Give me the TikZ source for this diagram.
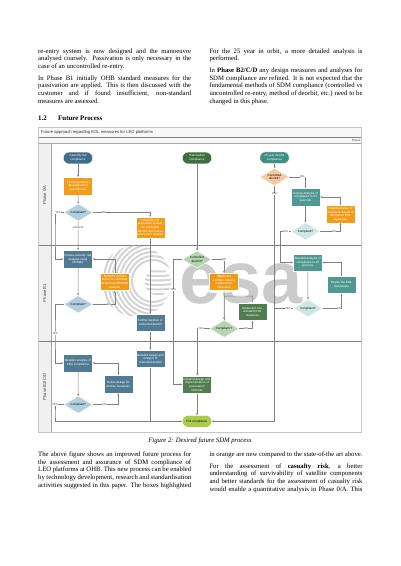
\documentclass[tikz,border=0pt]{standalone}
\usepackage{fontspec}
\setmainfont{Liberation Serif}
\setsansfont{Liberation Sans}
\usetikzlibrary{shapes.geometric,arrows.meta,calc}
\definecolor{cblue}{HTML}{3F6D8A}
\definecolor{clblue}{HTML}{B3CEDF}
\definecolor{corange}{HTML}{F29200}
\definecolor{cgreen}{HTML}{3D6E3C}
\definecolor{clgreen}{HTML}{B4D5B0}
\definecolor{cteal}{HTML}{3F8F85}
\definecolor{clteal}{HTML}{CDE8E3}
\definecolor{cpeach}{HTML}{F6C9A2}
\definecolor{clime}{HTML}{ABCB4B}
\definecolor{cwm}{HTML}{CBCBCB}
\definecolor{cwl}{HTML}{D4D4D4}
\definecolor{cline}{HTML}{808080}
\newcommand\jl[1]{\makebox[153pt][s]{#1}\\}
\tikzset{
 x=1pt,y=-1pt,
 bodytext/.style={anchor=north west,inner sep=0pt,align=left,font=\fontsize{6.7}{7.75}\selectfont},
 boxbase/.style={inner sep=0pt,align=center,font=\sffamily\fontsize{3}{3.7}\selectfont,text=white,draw=white,line width=.4pt},
 taskbox/.style={boxbase,rectangle,minimum width=29pt,minimum height=17.6pt,fill opacity=.9,text opacity=1},
 pill/.style={boxbase,rectangle,rounded corners=5.8pt,minimum width=29.4pt,minimum height=11.8pt},
 dec/.style={boxbase,diamond,aspect=1.7,minimum width=29pt,minimum height=17.4pt,text=black},
 conn/.style={draw=cline,line width=.5pt,-{Stealth[length=2.2pt,width=2pt]}},
 lbl/.style={inner sep=.3pt,fill=white,font=\sffamily\fontsize{2.7}{3}\selectfont,text=black!75},
 lane/.style={rotate=90,inner sep=0pt,font=\sffamily\fontsize{4.2}{5}\selectfont,text=black!75},
 sep/.style={draw=black!50,line width=.5pt},
}
\begin{document}
\begin{tikzpicture}
\useasboundingbox (0,0) rectangle (400,566);
\fill[white] (0,0) rectangle (400,566);

% body text, top
\node[bodytext] (t1) at (38,48.2) {\jl{re-entry system is now designed and the manoeuvre}\jl{analysed coarsely. Passivation is only necessary in the}case of an uncontrolled re-entry.};
\node[bodytext] (t2) at (38,75.2) {\jl{In Phase B1 initially OHB standard measures for the}\jl{passivation are applied. This is then discussed with the}\jl{customer and if found insufficient, non-standard}measures are assessed.};
\node[bodytext] (t3) at (209.3,48.2) {\jl{For the 25 year in orbit, a more detailed analysis is}performed.};
\node[bodytext] (t4) at (209.3,67.5) {\jl{In \textbf{Phase B2/C/D} any design measures and analyses for}\jl{SDM compliance are refined. It is not expected that the}\jl{fundamental methods of SDM compliance (controlled vs}\jl{uncontrolled re-entry, method of deorbit, etc.) need to be}changed in this phase.};
\node[anchor=west,inner sep=0pt,font=\bfseries\fontsize{6.9}{8}\selectfont] (h1) at (38,118) {1.2};
\node[anchor=west,inner sep=0pt,font=\bfseries\fontsize{6.9}{8}\selectfont] (h2) at (58,118) {Future Process};

% swimlane frame
\fill[black!3] (38.5,127) rectangle (361.5,143.3);
\fill[black!6] (38.5,143.3) rectangle (50.7,432);
\draw[draw=black!22,line width=1pt] (38.5,127) rectangle (361.5,432);
\draw[sep] (38.5,137.7) -- (361,137.7);
\draw[draw=black!35,line width=.4pt] (38.5,143.3) -- (361,143.3);
\draw[draw=black!35,line width=.4pt] (50.7,143.3) -- (50.7,432);
\draw[sep] (39,245.3) -- (361,245.3);
\draw[sep] (39,341.3) -- (361,341.3);
\node[anchor=west,inner sep=0pt,font=\sffamily\fontsize{4.15}{5}\selectfont,text=black!80] (title) at (41,132.2) {Future approach regarding EOL measures for LEO platforms};
\node[anchor=east,inner sep=0pt,font=\sffamily\fontsize{3}{4}\selectfont,text=black!70] (phase) at (360.5,140.6) {Phase};
\node[lane] (l1) at (44.5,195) {Phase 0/A};
\node[lane] (l2) at (44.5,293) {Phase B1};
\node[lane] (l3) at (44.5,387) {Phase B2/C/D};

% watermark logo
\begin{scope}
 \clip (136,281) circle (35.5);
 \foreach \r in {21,25,...,65} \draw[cwl,line width=2pt] (153,281) circle (\r);
 \fill[white] (158,282) circle (17.5);
\end{scope}
\begin{scope}
 \clip (158,282) circle (13.5);
 \foreach \yy in {270,274.5,279,283.5,288,292.5}
  \draw[cwl,line width=2pt] (144,\yy) .. controls (150,\yy+2) and (165,\yy+2) .. (174,\yy);
\end{scope}
\node[inner sep=0pt,text=cwm,font=\sffamily\bfseries\fontsize{74}{74}\selectfont,anchor=base west] (esa) at (179,303) {esa};

% nodes
\node[pill,fill=cblue] (p1) at (78,158) {Casualty risk\\compliance};
\node[taskbox,fill=corange] (a1) at (78,186) {First quantitative\\assessment of\\casualty risk};
\node[dec,fill=clblue] (d1) at (78.3,212.5) {Compliant?};
\node[taskbox,fill=corange,minimum height=21.7pt] (a2) at (150.3,227.8) {Integration of\\propulsion system\\for controlled\\deorbit and coarse\\manoeuvre analysis};
\node[pill,fill=cgreen] (p2) at (197,158) {Passivation\\compliance};
\node[pill,fill=cteal] (p3) at (274.5,157.7) {25 year deorbit\\compliance};
\node[dec,fill=cpeach] (d2) at (274.5,177) {Controlled\\deorbit?};
\node[taskbox,fill=cteal] (c1) at (305.5,197) {Coarse analysis of\\compliance to 25\\year rule};
\node[taskbox,fill=corange] (c2) at (340.5,214) {Implementation of\\propulsion based or\\alternative EOL\\measures};
\node[dec,fill=clteal] (d3) at (305.5,231.3) {Compliant?};

\node[taskbox,fill=cblue] (b1) at (78,259) {Coarse casualty risk\\analysis using\\DRAMA};
\node[taskbox,fill=corange] (b2) at (114.8,281.8) {Bring the deorbit\\closer to controlled\\deorbit and DRAMA\\analysis};
\node[dec,fill=clblue] (d4) at (78.3,304.3) {Compliant?};
\node[taskbox,fill=cblue] (b3) at (150.3,322.7) {Further iteration of\\controlled deorbit};
\node[dec,fill=clgreen] (d5) at (197,259.5) {Controlled\\deorbit?};
\node[taskbox,fill=corange] (b4) at (224,281.8) {Implement\\common industry\\standard EoL\\measures};
\node[taskbox,fill=cgreen] (b5) at (252.5,311.7) {Implement non-\\standard EOL\\measures};
\node[dec,fill=clgreen] (d6) at (224.3,328.7) {Compliant ?};
\node[taskbox,fill=cteal] (b6) at (307.8,262.5) {Detailed analysis of\\compliance to 25\\year rule};
\node[taskbox,fill=cteal] (b7) at (341.5,284.7) {Revise the EOL\\manoeuvre};
\node[dec,fill=clteal] (d7) at (308,308.3) {Compliant?};

\node[taskbox,fill=cblue] (e1) at (78,363) {Detailed analysis of\\CRA compliance};
\node[taskbox,fill=cblue] (e2) at (150.3,358.8) {Detailed design and\\analysis of\\controlled deorbit};
\node[taskbox,fill=cblue] (e3) at (118.3,384.3) {Refine design for\\demise measures};
\node[dec,fill=clblue] (d8) at (78.3,404.7) {Compliant?};
\node[taskbox,fill=cgreen] (e4) at (197,384.5) {Detailed design and\\implementation of\\passivation\\methods};
\node[pill,fill=clime,text=black] (e5) at (197,421.3) {Full compliance};

% rails
\coordinate (r1) at (55,235);
\coordinate (r2) at (55,335);
\coordinate (r3) at (55,415);
\coordinate (r4) at (173.3,320);
\coordinate (r5) at (197.3,350);
\coordinate (r6) at (280.3,250);
\coordinate (r7) at (274.3,350);
\coordinate (r8) at (150.3,421.3);
\coordinate (r9) at (224.7,296);

% connectors
\draw[conn] (p1) -- (a1);
\draw[conn] (a1) -- (d1);
\draw[conn] (d1) -- (b1);
\draw[conn] (d1.west) -| (r1) |- (b1.west);
\draw[conn] (d1.east) -| (a2.north);
\draw[conn] (a2) -- (b3);
\draw[conn] (b3) -- (e2);
\draw[conn] (p2) -- (d5);
\draw[conn] (p3) -- (d2);
\draw[conn] (d2.east) -| (c1.north);
\draw[conn] (c1) -- (d3);
\draw[conn] (d3.east) -| (c2.south);
\draw[conn] (c2.north) |- (c1.east);
\draw[conn] (d3.west) -| (r6) |- (b6.west);
\draw[conn] (b1) -- (d4);
\draw[conn] (d4.east) -| (b2.south);
\draw[conn] (b2.north) |- (b1.east);
\draw[conn] (d4.west) -| (r2) |- (e1.west);
\draw[conn] (d5.west) -| (r4) |- (e4.west);
\draw[conn] (d5.east) -| (b4.north);
\draw[conn] (b4) -- (d6);
\draw[conn] (d6.east) -| (b5.south);
\draw[conn] (b5.north) |- (r9) -- (d6.north);
\draw[conn] (d6.west) -| (r5) -- (r5 |- e4.north);
\draw[conn] (b6) -- (d7);
\draw[conn] (d7.east) -| (b7.south);
\draw[conn] (b7.north) |- (b6.east);
\draw[draw=cline,line width=.5pt] (d7.west) -| (r7);
\draw[conn] (d2.south) |- (e5.east);
\draw[conn] (e1) -- (d8);
\draw[conn] (d8.east) -| (e3.south);
\draw[conn] (e3.north) |- (e1.east);
\draw[conn] (d8.west) -| (r3) |- (e5.west);
\draw[draw=cline,line width=.5pt] (e2) -- (r8);
\draw[conn] (e4) -- (e5);

% connector labels
\node[lbl] (n1) at (58,212.5) {YES};
\node[lbl] (n2) at (103,212.5) {NO};
\node[lbl] (n3) at (78,228) {marginal};
\node[lbl] (n4) at (274.5,194) {YES};
\node[lbl] (n5) at (302.5,177) {NO};
\node[lbl] (n6) at (285.5,231.3) {YES};
\node[lbl] (n7) at (334,231.3) {NO};
\node[lbl] (n8) at (109,304.3) {NO};
\node[lbl] (n9) at (55,333.7) {YES};
\node[lbl] (n10) at (173.3,290) {YES};
\node[lbl] (n11) at (224,259.5) {NO};
\node[lbl] (n12) at (201,328.7) {YES};
\node[lbl] (n13) at (246,328.7) {NO};
\node[lbl] (n14) at (287.7,308.3) {YES};
\node[lbl] (n15) at (339,308.3) {NO};
\node[lbl] (n16) at (55,404.7) {YES};
\node[lbl] (n17) at (104.7,404.7) {NO};

% caption and lower text
\node[inner sep=0pt,font=\itshape\fontsize{6.7}{8}\selectfont] (cap) at (200,440.7) {Figure 2: Desired future SDM process};
\node[bodytext] (t5) at (38,451.5) {\jl{The above figure shows an improved future process for}\jl{the assessment and assurance of SDM compliance of}\jl{LEO platforms at OHB. This new process can be enabled}\jl{by technology development, research and standardisation}\jl{activities suggested in this paper. The boxes highlighted}};
\node[bodytext] (t6) at (209.3,451.5) {\jl{in orange are new compared to the state-of-the art above.}};
\node[bodytext] (t7) at (209.3,463.2) {\jl{For the assessment of \textbf{casualty risk}, a better}\jl{understanding of survivability of satellite components}\jl{and better standards for the assessment of casualty risk}\jl{would enable a quantitative analysis in Phase 0/A. This}};
\end{tikzpicture}
\end{document}
